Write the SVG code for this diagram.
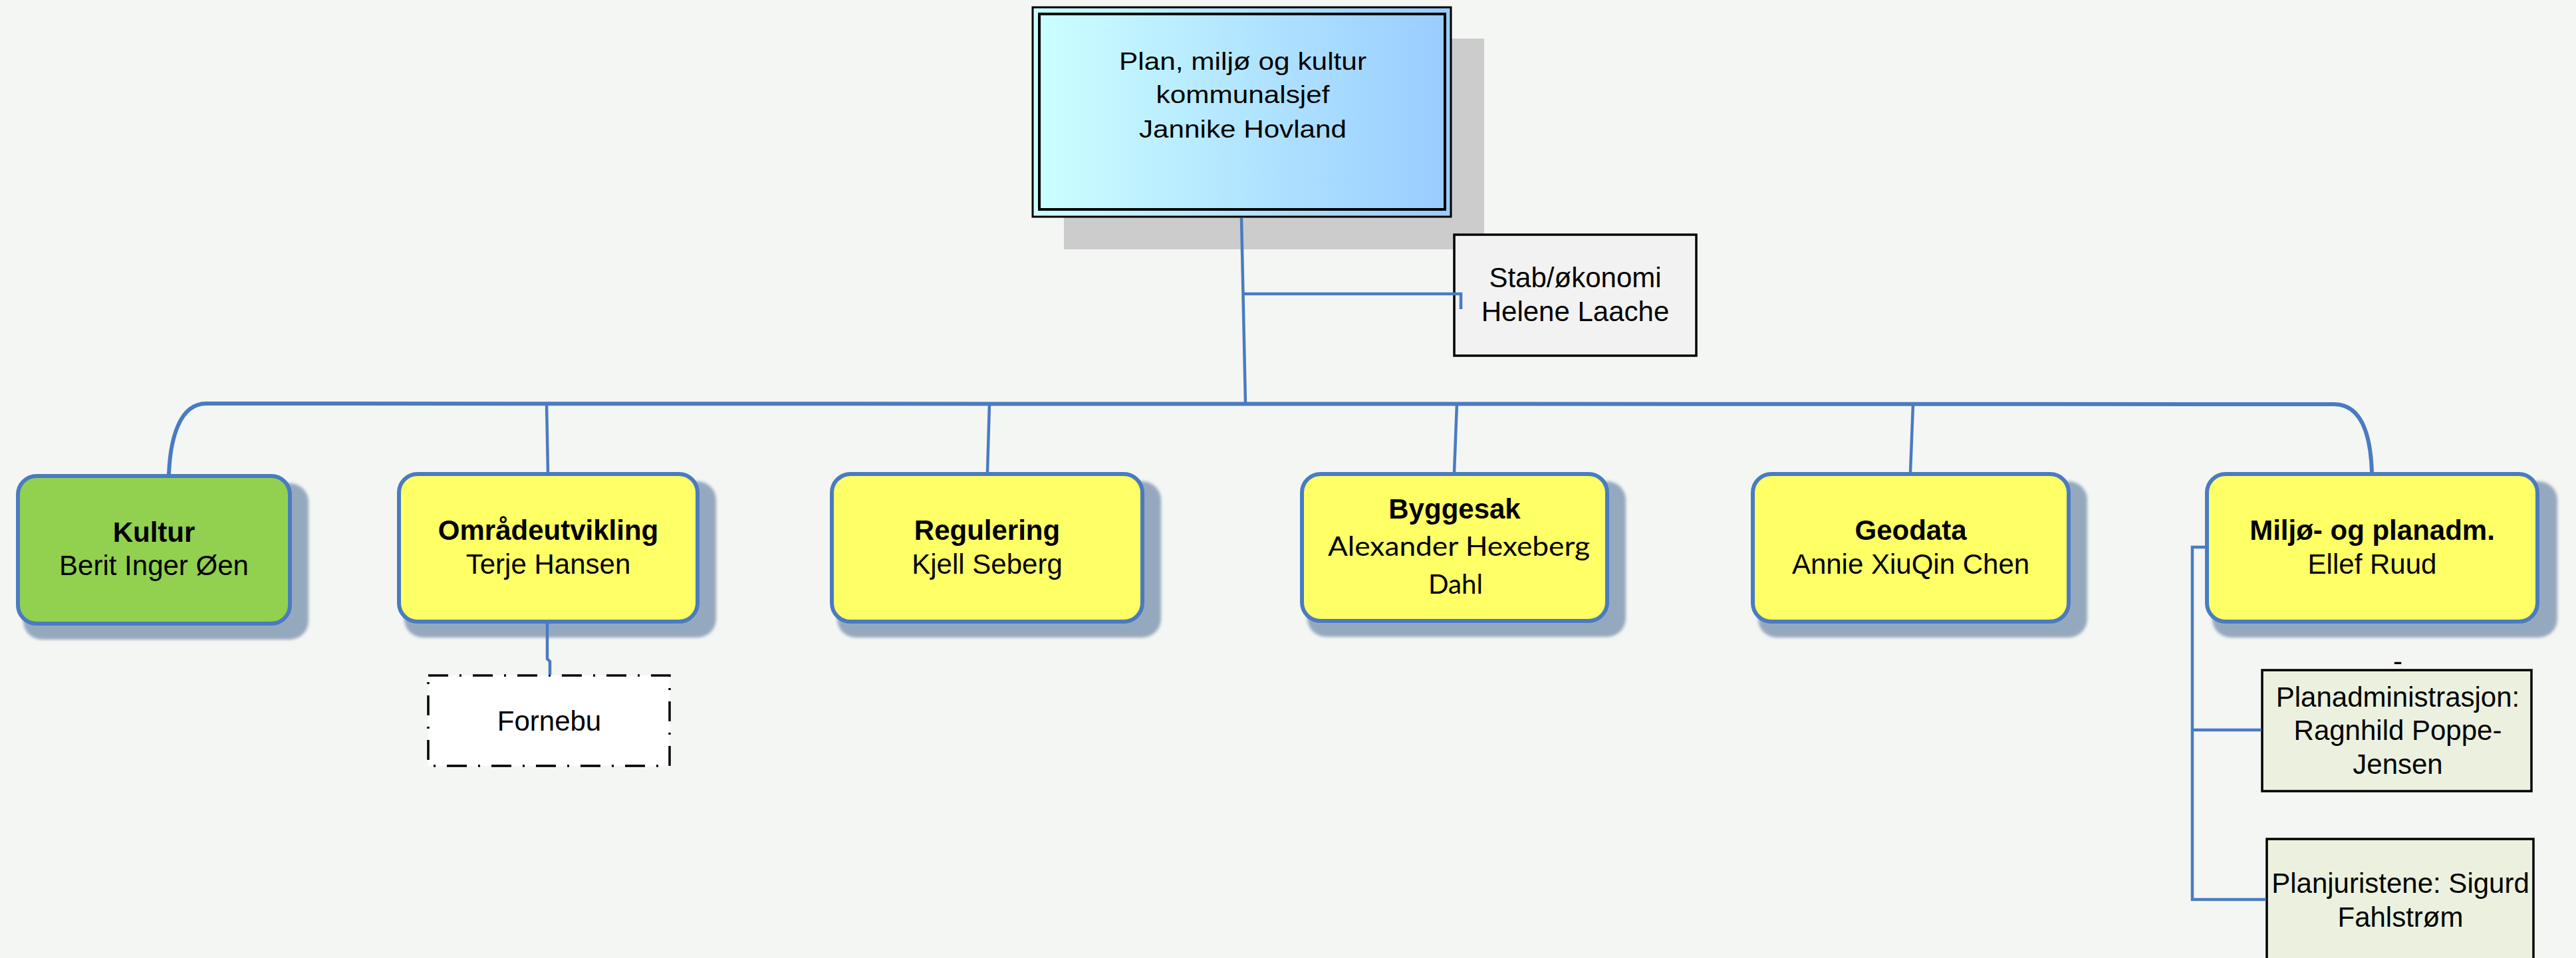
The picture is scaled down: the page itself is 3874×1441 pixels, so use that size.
<svg xmlns="http://www.w3.org/2000/svg" width="3874" height="1441" viewBox="0 0 3874 1441">
<defs>
<linearGradient id="topGrad" x1="0" y1="0" x2="1" y2="0">
<stop offset="0" stop-color="#ccffff"/>
<stop offset="1" stop-color="#99ccff"/>
</linearGradient>
<filter id="soft" x="-5%" y="-5%" width="110%" height="110%">
<feGaussianBlur stdDeviation="2"/>
</filter>
<style>
.t{font-family:"Liberation Sans",Arial,sans-serif;font-size:42px;fill:#000;text-anchor:middle}
.b{font-weight:bold}
.c{font-family:Lato,"Liberation Sans",sans-serif;font-size:40px;fill:#000;text-anchor:middle}
.tier{stroke:#4a7bc2;stroke-width:6;fill:#ffff66}
.shad{fill:#95a9be;filter:url(#soft)}
.box{stroke:#000;stroke-width:3.5}
.bus{fill:none;stroke:#4a7bc2;stroke-width:6;stroke-linecap:round}
.con{fill:none;stroke:#4a7bc2;stroke-width:4.5}
</style>
</defs>
<rect width="3874" height="1441" fill="#f4f6f3"/>

<g id="top">
<rect x="1600" y="58" width="632" height="317" fill="#cccccc"/>
<rect x="1553" y="11" width="629" height="315" fill="url(#topGrad)" stroke="#000" stroke-width="3"/>
<rect x="1563" y="21" width="610" height="294" fill="none" stroke="#000" stroke-width="4"/>
<text class="t" style="font-size:36px" x="1869" y="105" textLength="372" lengthAdjust="spacingAndGlyphs">Plan, miljø og kultur</text>
<text class="t" style="font-size:36px" x="1869" y="155" textLength="261" lengthAdjust="spacingAndGlyphs">kommunalsjef</text>
<text class="t" style="font-size:36px" x="1869" y="207" textLength="312" lengthAdjust="spacingAndGlyphs">Jannike Hovland</text>
</g>

<g id="stab">
<rect class="box" x="2187" y="353" width="364" height="182" fill="#f2f2f2"/>
<text class="t" x="2369" y="432">Stab/økonomi</text>
<text class="t" x="2369" y="483">Helene Laache</text>
</g>

<g id="kultur">
<rect class="shad" x="35" y="727" width="429" height="235" rx="28"/>
<rect class="tier" x="27" y="716" width="409" height="222" rx="28" style="fill:#92d050"/>
<text class="t b" x="231.5" y="815">Kultur</text>
<text class="t" x="231.5" y="865">Berit Inger Øen</text>
</g>

<g id="omraadeutvikling">
<rect class="shad" x="608" y="724" width="469" height="235" rx="28"/>
<rect class="tier" x="600" y="713" width="449" height="222" rx="28"/>
<text class="t b" x="824.5" y="812">Områdeutvikling</text>
<text class="t" x="824.5" y="863">Terje Hansen</text>
</g>

<g id="regulering">
<rect class="shad" x="1259" y="724" width="487" height="235" rx="28"/>
<rect class="tier" x="1251" y="713" width="467" height="222" rx="28"/>
<text class="t b" x="1484.5" y="812">Regulering</text>
<text class="t" x="1484.5" y="863">Kjell Seberg</text>
</g>

<g id="byggesak">
<rect class="shad" x="1966" y="724" width="479" height="234" rx="28"/>
<rect class="tier" x="1958" y="713" width="459" height="221" rx="28"/>
<text class="t b" x="2187.5" y="780">Byggesak</text>
<text class="c" x="2194" y="836" textLength="394" lengthAdjust="spacingAndGlyphs">Alexander Hexeberg</text>
<text class="c" x="2189" y="893" textLength="82" lengthAdjust="spacingAndGlyphs">Dahl</text>
</g>

<g id="geodata">
<rect class="shad" x="2644" y="724" width="495" height="235" rx="28"/>
<rect class="tier" x="2636" y="713" width="475" height="222" rx="28"/>
<text class="t b" x="2873.5" y="812">Geodata</text>
<text class="t" x="2873.5" y="863">Annie XiuQin Chen</text>
</g>

<g id="miljo">
<rect class="shad" x="3327" y="724" width="519" height="235" rx="28"/>
<rect class="tier" x="3319" y="713" width="497" height="222" rx="28"/>
<text class="t b" x="3567.5" y="812">Miljø- og planadm.</text>
<text class="t" x="3567.5" y="863">Ellef Ruud</text>
</g>

<g id="fornebu">
<rect x="644" y="1016" width="363" height="136" fill="#ffffff" stroke="#000" stroke-width="3.5" stroke-dasharray="30 17 3 17"/>
<text class="t" x="826" y="1099">Fornebu</text>
</g>

<g id="planadm">
<text class="t" x="3606" y="1009">-</text>
<rect class="box" x="3402" y="1008" width="405" height="182" fill="#ebf1de"/>
<text class="t" x="3606" y="1063">Planadministrasjon:</text>
<text class="t" x="3606" y="1113">Ragnhild Poppe-</text>
<text class="t" x="3606" y="1164">Jensen</text>
</g>

<g id="planjur">
<rect class="box" x="3409" y="1262" width="401" height="200" fill="#ebf1de"/>
<text class="t" x="3610" y="1343">Planjuristene: Sigurd</text>
<text class="t" x="3610" y="1394">Fahlstrøm</text>
</g>

<g id="connectors">
<path class="bus" d="M254 713 C256 660 270 607 310 607 L3510 608 C3550 608 3565 650 3567 710"/>
<path class="con" d="M1867 328 L1873 607"/>
<path class="con" d="M1868 442 L2197 442 L2197 465"/>
<path class="con" d="M822 607 L824 710"/>
<path class="con" d="M1488 607 L1485 710"/>
<path class="con" d="M2191 607 L2187 710"/>
<path class="con" d="M2877 608 L2873 710"/>
<path class="con" d="M823 938 L823 991 L827 995 L827 1015"/>
<path class="con" d="M3316 823 L3297 823 L3297 1353 L3408 1353"/>
<path class="con" d="M3297 1098 L3401 1098"/>
</g>
</svg>
